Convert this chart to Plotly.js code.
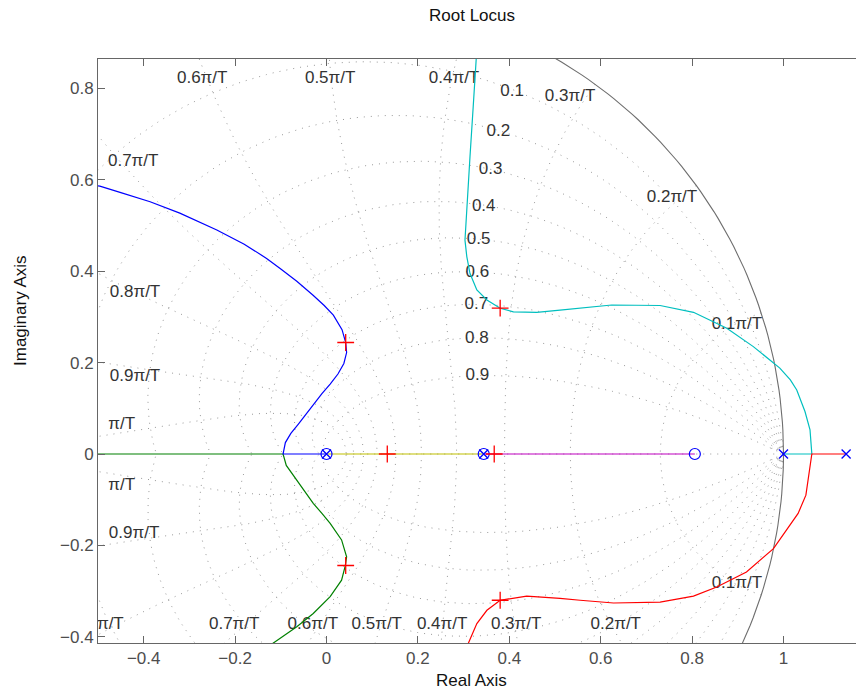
<!DOCTYPE html>
<html><head><meta charset="utf-8">
<script src="https://cdn.plot.ly/plotly-3.0.1.min.js"></script>
<style>html,body{margin:0;padding:0;overflow:hidden;background:#fff}</style>
</head><body><div id="chart" style="width:856px;height:693px"></div>
<script>
// ---- axis ticks ----
const xTicks = [-0.4, -0.2, 0, 0.2, 0.4, 0.6, 0.8, 1];
const yTicks = [-0.4, -0.2, 0, 0.2, 0.4, 0.6, 0.8];

// ---- zgrid definition ----
const zetaVals = [0.1, 0.2, 0.3, 0.4, 0.5, 0.6, 0.7, 0.8, 0.9];
const wnFactors = [0.1, 0.2, 0.3, 0.4, 0.5, 0.6, 0.7, 0.8, 0.9, 1.0]; // times pi/T
const smallWn = [0.018, 0.029];

// ---- grid labels ----
const wnLabelText = ['0.1π/T','0.2π/T','0.3π/T','0.4π/T','0.5π/T','0.6π/T','0.7π/T','0.8π/T','0.9π/T','π/T',
                     'π/T','0.9π/T','π/T','0.7π/T','0.6π/T','0.5π/T','0.4π/T','0.3π/T','0.2π/T','0.1π/T'];
const wnLabelX = [0.898, 0.756, 0.533, 0.279, 0.008, -0.272, -0.423, -0.419, -0.419, -0.448,
                  -0.448, -0.421, -0.473, -0.202, -0.030, 0.110, 0.253, 0.415, 0.633, 0.898];
const wnLabelY = [0.282, 0.560, 0.781, 0.821, 0.821, 0.821, 0.639, 0.352, 0.168, 0.063,
                  -0.070, -0.175, -0.374, -0.374, -0.374, -0.374, -0.374, -0.374, -0.374, -0.284];
const zetaLabelText = ['0.1','0.2','0.3','0.4','0.5','0.6','0.7','0.8','0.9'];
const zetaLabelX = [0.406, 0.376, 0.359, 0.344, 0.333, 0.330, 0.328, 0.329, 0.330];
const zetaLabelY = [0.792, 0.705, 0.621, 0.541, 0.468, 0.396, 0.326, 0.252, 0.171];

// ---- root locus branches ----
const blueX = [0, -0.095, -0.09, -0.078, -0.062, -0.045, -0.029, -0.01, 0.008, 0.025, 0.038, 0.044, 0.042, 0.034, 0.015, -0.005, -0.03, -0.065, -0.1, -0.131, -0.18, -0.240, -0.321, -0.386, -0.45, -0.496, -0.56];
const blueY = [0, 0, 0.025, 0.045, 0.065, 0.087, 0.108, 0.132, 0.153, 0.175, 0.198, 0.222, 0.244, 0.272, 0.304, 0.325, 0.348, 0.378, 0.405, 0.428, 0.459, 0.490, 0.527, 0.552, 0.572, 0.586, 0.600];
const greenX = [-0.6, -0.095, -0.088, -0.065, -0.047, -0.029, -0.01, 0.008, 0.033, 0.044, 0.041, 0.033, 0.008, -0.029, -0.065, -0.102, -0.14];
const greenY = [0, 0, -0.025, -0.057, -0.083, -0.108, -0.13, -0.152, -0.188, -0.225, -0.245, -0.276, -0.312, -0.349, -0.378, -0.403, -0.43];
const yellowX = [0, 0.344];
const yellowY = [0, 0];
const magentaX = [0.344, 0.806];
const magentaY = [0, 0];
const cyanX = [1.0, 1.062, 1.058, 1.047, 1.029, 1.015, 0.992, 0.934, 0.876, 0.803, 0.730, 0.624, 0.511, 0.460, 0.409, 0.380, 0.351, 0.329, 0.314, 0.307, 0.303, 0.307, 0.314, 0.321, 0.329, 0.333];
const cyanY = [0, 0, 0.053, 0.093, 0.140, 0.162, 0.188, 0.235, 0.275, 0.310, 0.325, 0.326, 0.315, 0.310, 0.311, 0.319, 0.337, 0.359, 0.395, 0.432, 0.468, 0.541, 0.651, 0.760, 0.864, 0.95];
const redX = [1.137, 1.062, 1.049, 1.032, 0.978, 0.919, 0.854, 0.803, 0.730, 0.628, 0.555, 0.511, 0.438, 0.380, 0.351, 0.329, 0.310, 0.300];
const redY = [0, 0, -0.090, -0.130, -0.207, -0.258, -0.291, -0.311, -0.324, -0.326, -0.320, -0.316, -0.311, -0.320, -0.342, -0.371, -0.415, -0.45];

// ---- poles, zeros, gain markers ----
const poleX = [0, 0.344, 1.0, 1.137];
const poleY = [0, 0, 0, 0];
const zeroX = [0, 0.344, 0.806];
const zeroY = [0, 0, 0];
const gainX = [0.042, 0.042, 0.133, 0.367, 0.380, 0.380];
const gainY = [0.244, -0.244, 0, 0, 0.319, -0.320];

// ---- build zgrid geometry ----
const gx = [], gy = [];
function pushCurve(xs, ys){ for (let i=0;i<xs.length;i++){gx.push(xs[i]); gy.push(ys[i]);} gx.push(null); gy.push(null); }
const N = 160;
zetaVals.forEach(z => {
  const m = z/Math.sqrt(1-z*z);
  const xs=[], ys=[], ysn=[];
  for (let i=0;i<=N;i++){ const t=Math.PI*i/N; const r=Math.exp(-m*t); xs.push(r*Math.cos(t)); ys.push(r*Math.sin(t)); ysn.push(-r*Math.sin(t)); }
  pushCurve(xs, ys); pushCurve(xs, ysn);
});
function wnCurve(wn){
  const xs=[], ys=[], ysn=[];
  for (let i=0;i<=N;i++){ const th=Math.PI/2+Math.PI/2*i/N; const r=Math.exp(wn*Math.cos(th)); const a=wn*Math.sin(th); xs.push(r*Math.cos(a)); ys.push(r*Math.sin(a)); ysn.push(-r*Math.sin(a)); }
  pushCurve(xs, ys); pushCurve(xs, ysn);
}
wnFactors.forEach(f => wnCurve(f*Math.PI));
smallWn.forEach(w => wnCurve(w));
pushCurve([Math.exp(-Math.PI), 1], [0, 0]);
const ux=[], uy=[];
for (let i=0;i<=360;i++){ const t=2*Math.PI*i/360; ux.push(Math.cos(t)); uy.push(Math.sin(t)); }

const FONT = 'Liberation Sans, Arial, Helvetica, sans-serif';
const traces = [
  {x: gx, y: gy, mode:'lines', line:{color:'#9a9a9a', width:1, dash:'1px,6px'}, hoverinfo:'skip', showlegend:false},
  {x: ux, y: uy, mode:'lines', line:{color:'#6e6e6e', width:1.1}, hoverinfo:'skip', showlegend:false},
  {x: wnLabelX, y: wnLabelY, text: wnLabelText, mode:'text', textposition:'middle center', textfont:{family:FONT, size:17, color:'#333'}, hoverinfo:'skip', showlegend:false, cliponaxis:true},
  {x: zetaLabelX, y: zetaLabelY, text: zetaLabelText, mode:'text', textposition:'middle center', textfont:{family:FONT, size:17, color:'#333'}, hoverinfo:'skip', showlegend:false, cliponaxis:true},
  {x: yellowX, y: yellowY, mode:'lines', line:{color:'rgb(191,191,0)', width:1.2}, showlegend:false},
  {x: magentaX, y: magentaY, mode:'lines', line:{color:'rgb(191,0,191)', width:1.2}, showlegend:false},
  {x: greenX, y: greenY, mode:'lines', line:{color:'rgb(0,128,0)', width:1.2}, showlegend:false},
  {x: blueX, y: blueY, mode:'lines', line:{color:'rgb(0,0,255)', width:1.2}, showlegend:false},
  {x: cyanX, y: cyanY, mode:'lines', line:{color:'rgb(0,191,191)', width:1.2}, showlegend:false},
  {x: redX, y: redY, mode:'lines', line:{color:'rgb(255,0,0)', width:1.2}, showlegend:false},
  {x: zeroX, y: zeroY, mode:'markers', marker:{symbol:'circle-open', size:11, color:'rgb(0,0,255)', line:{width:1.2, color:'rgb(0,0,255)'}}, showlegend:false},
  {x: poleX, y: poleY, mode:'markers', marker:{symbol:'x-thin-open', size:9, color:'rgb(0,0,255)', line:{width:1.3, color:'rgb(0,0,255)'}}, showlegend:false},
  {x: gainX, y: gainY, mode:'markers', marker:{symbol:'cross-thin-open', size:12, color:'rgb(255,0,0)', line:{width:1.3, color:'rgb(255,0,0)'}}, showlegend:false}
];

const L = 98, T = 59, PW = 758, PH = 584, SC = 457, X0 = 326.5, Y0 = 454;
const layout = {
  width: 856, height: 693,
  margin: {l: L, r: 856 - L - PW, t: T, b: 693 - T - PH, pad: 0},
  paper_bgcolor: '#fff', plot_bgcolor: '#fff',
  font: {family: FONT, size: 17, color: '#4d4d4d'},
  title: {text: 'Root Locus', x: 472/856, xref: 'container', xanchor: 'center', y: 1 - 15/693, yref: 'container', yanchor: 'middle', font: {family: FONT, size: 17, color: '#111'}},
  xaxis: {range: [(L - X0)/SC, (L + PW - X0)/SC], tickmode: 'array', tickvals: xTicks, ticks: 'inside', ticklen: 7, tickcolor: '#666', tickwidth: 1,
          showline: true, linecolor: '#666', linewidth: 1, mirror: 'ticks', showgrid: false, zeroline: false,
          tickfont: {family: FONT, size: 17, color: '#4d4d4d'}, fixedrange: true},
  yaxis: {range: [(Y0 - T - PH)/SC, (Y0 - T)/SC], tickmode: 'array', tickvals: yTicks, ticks: 'inside', ticklen: 7, tickcolor: '#666', tickwidth: 1,
          showline: true, linecolor: '#666', linewidth: 1, mirror: false, showgrid: false, zeroline: false,
          tickfont: {family: FONT, size: 17, color: '#4d4d4d'}, fixedrange: true},
  annotations: [
    {text: 'Real Axis', xref: 'paper', yref: 'paper', x: (471.7 - L)/PW, y: (T + PH - 680)/PH, xanchor: 'center', yanchor: 'middle', showarrow: false, font: {family: FONT, size: 17, color: '#111'}},
    {text: 'Imaginary Axis', xref: 'paper', yref: 'paper', x: (20 - L)/PW, y: (T + PH - 311)/PH, xanchor: 'center', yanchor: 'middle', textangle: -90, showarrow: false, font: {family: FONT, size: 17, color: '#111'}}
  ],
  showlegend: false, hovermode: false
};
Plotly.newPlot('chart', traces, layout, {displayModeBar: false, staticPlot: true});
</script></body></html>
